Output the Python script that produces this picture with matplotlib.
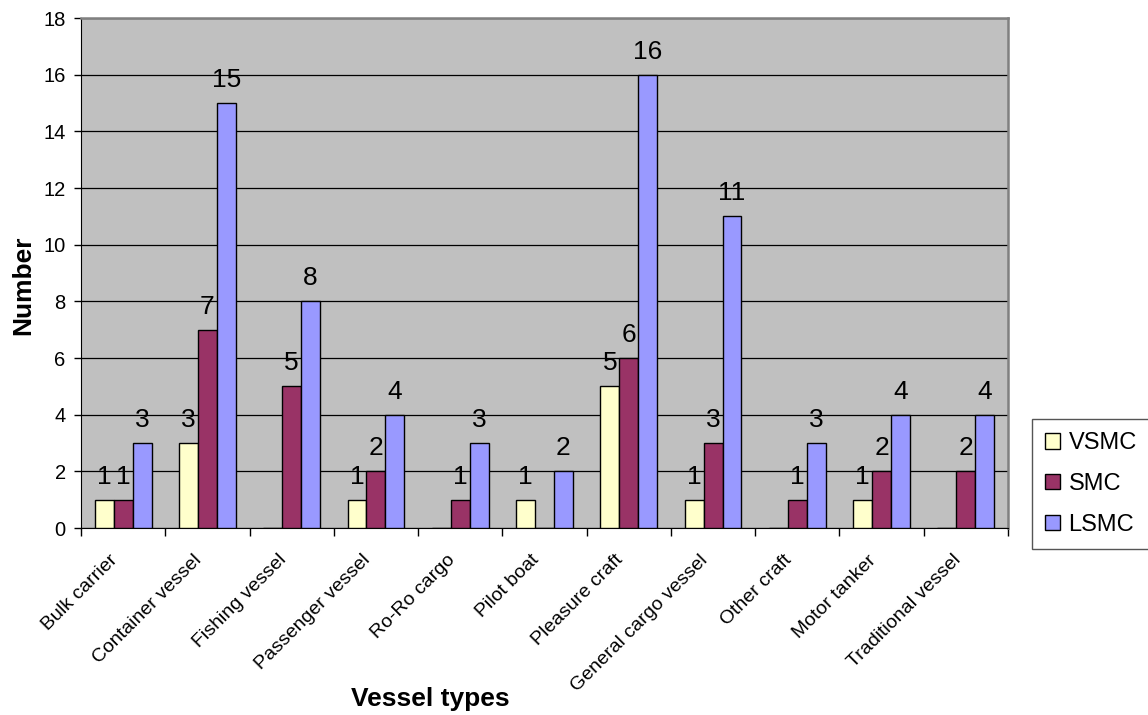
import matplotlib
matplotlib.use("Agg")
from matplotlib import pyplot as plt
from matplotlib.ticker import FixedLocator, NullFormatter
from matplotlib.transforms import ScaledTranslation
import numpy as np

plt.rcParams['font.family'] = ['Liberation Sans', 'DejaVu Sans']

vessel_types = ['Bulk carrier', 'Container vessel', 'Fishing vessel', 'Passenger vessel',
                'Ro-Ro cargo', 'Pilot boat', 'Pleasure craft', 'General cargo vessel',
                'Other craft', 'Motor tanker', 'Traditional vessel']
vsmc = [1, 3, 0, 1, 0, 1, 5, 1, 0, 1, 0]
smc = [1, 7, 5, 2, 1, 0, 6, 3, 1, 2, 2]
lsmc = [3, 15, 8, 4, 3, 2, 16, 11, 3, 4, 4]

series = [('VSMC', vsmc, '#FFFFCC'), ('SMC', smc, '#993366'), ('LSMC', lsmc, '#9999FF')]

W, H = 1148, 715
fig = plt.figure(figsize=(W / 100, H / 100), dpi=100)
ax = fig.add_axes([81 / W, 1 - 528 / H, (1008 - 81) / W, (528 - 18) / H])
ax.set_facecolor('#C0C0C0')

x = np.arange(len(vessel_types))
w = 0.225
for i, (name, vals, color) in enumerate(series):
    pos = x + (i - 1) * w
    bars = ax.bar(pos, vals, w, color=color, edgecolor='black', linewidth=1.0, label=name, zorder=3)
    for b, v in zip(bars, vals):
        if v > 0:
            ax.annotate(str(v), (b.get_x() + b.get_width() / 2, v), xytext=(0, 11.5),
                        textcoords='offset points', ha='center', va='baseline',
                        fontsize=19, zorder=4)

ax.set_xlim(-0.5, len(vessel_types) - 0.5)
ax.set_ylim(0, 18)
ax.set_yticks(range(0, 19, 2))
ax.yaxis.grid(True, color='black', linewidth=0.9, zorder=1)
ax.tick_params(axis='y', labelsize=14.5, length=5, width=1, pad=6, direction='out')

# category names at the group centres, tick marks between the groups
ax.set_xticks(x)
ax.set_xticklabels(vessel_types, rotation=45, ha='right', va='top', rotation_mode='anchor', fontsize=14)
ax.tick_params(axis='x', which='major', length=0, pad=17)
shift = ScaledTranslation(-14 / 100, 0, fig.dpi_scale_trans)
for lbl in ax.get_xticklabels():
    lbl.set_transform(lbl.get_transform() + shift)
ax.xaxis.set_minor_locator(FixedLocator(np.arange(-0.5, len(vessel_types), 1)))
ax.xaxis.set_minor_formatter(NullFormatter())
ax.tick_params(axis='x', which='minor', length=6, width=1, direction='out')

for s in ['top', 'right']:
    ax.spines[s].set_color('#808080')
    ax.spines[s].set_linewidth(1.8)
ax.spines['left'].set_color('black')
ax.spines['bottom'].set_color('black')

fig.text(430 / W, 1 - 706 / H, 'Vessel types', fontsize=19, fontweight='bold', ha='center', va='baseline')
fig.text(23 / W, 1 - 285 / H, 'Number', fontsize=19, fontweight='bold', ha='center', va='center',
         rotation=90)

leg = ax.legend(loc='upper left', bbox_to_anchor=(1032 / W, 1 - 419 / H), bbox_transform=fig.transFigure,
                fontsize=17, frameon=True, fancybox=False, edgecolor='#555555', framealpha=1,
                handlelength=0.65, handleheight=0.65, handletextpad=0.35, borderpad=0.55,
                labelspacing=0.8, borderaxespad=0)
leg.get_frame().set_linewidth(1.0)
for h in leg.legend_handles:
    h.set_linewidth(1.0)

fig.savefig('out.png', dpi=100)
